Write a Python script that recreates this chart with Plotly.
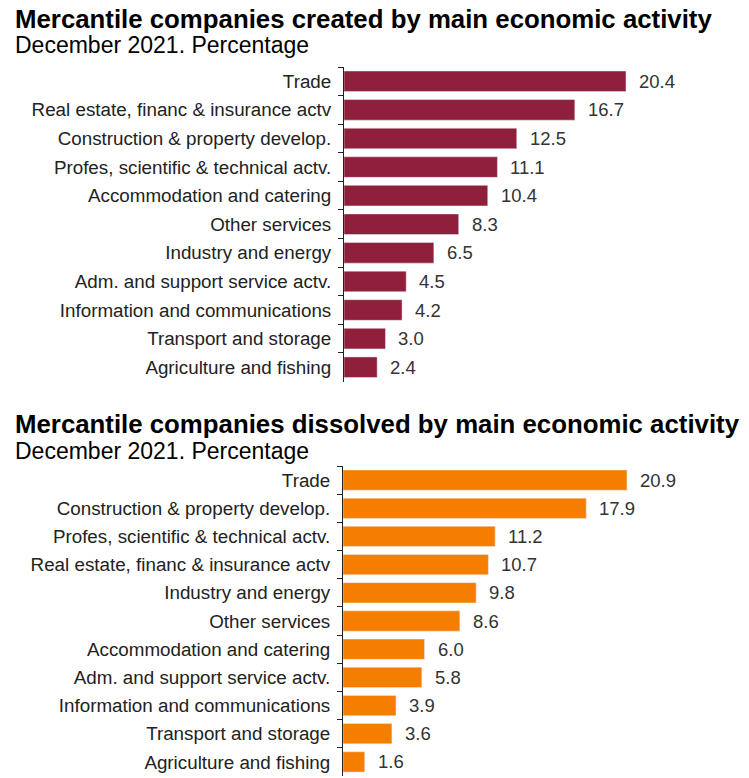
import plotly.graph_objects as go

# page body adds an 8px margin, so the figure is 8px smaller and positions are shifted
OFF = 8
W, H = 749 - OFF, 778 - OFF

created_cats = ["Trade", "Real estate, financ & insurance actv", "Construction & property develop.",
                "Profes, scientific & technical actv.", "Accommodation and catering", "Other services",
                "Industry and energy", "Adm. and support service actv.", "Information and communications",
                "Transport and storage", "Agriculture and fishing"]
created_vals = [20.4, 16.7, 12.5, 11.1, 10.4, 8.3, 6.5, 4.5, 4.2, 3.0, 2.4]

dissolved_cats = ["Trade", "Construction & property develop.", "Profes, scientific & technical actv.",
                  "Real estate, financ & insurance actv", "Industry and energy", "Other services",
                  "Accommodation and catering", "Adm. and support service actv.",
                  "Information and communications", "Transport and storage", "Agriculture and fishing"]
dissolved_vals = [20.9, 17.9, 11.2, 10.7, 9.8, 8.6, 6.0, 5.8, 3.9, 3.6, 1.6]

title_top = "Mercantile companies created by main economic activity"
title_bottom = "Mercantile companies dissolved by main economic activity"
subtitle = "December 2021. Percentage"

MAROON = "#8f1f3a"
ORANGE = "#f57e00"
FONT = "Liberation Sans, Arial, sans-serif"


def py(px):
    # reference pixel (from top) -> paper coordinate
    return 1 - (px - OFF) / H


def px_x(px):
    return (px - OFF) / W


fig = go.Figure()
fig.add_trace(go.Bar(x=created_vals, y=created_cats, orientation="h", marker_color=MAROON,
                     xaxis="x", yaxis="y", hoverinfo="x+y"))
fig.add_trace(go.Bar(x=dissolved_vals, y=dissolved_cats, orientation="h", marker_color=ORANGE,
                     xaxis="x2", yaxis="y2", hoverinfo="x+y"))

annotations = []
for v, c in zip(created_vals, created_cats):
    annotations.append(dict(x=v, y=c, xref="x", yref="y", text=f"{v:.1f}", showarrow=False,
                            xanchor="left", xshift=11, font=dict(size=18.5, color="#333333")))
for v, c in zip(dissolved_vals, dissolved_cats):
    annotations.append(dict(x=v, y=c, xref="x2", yref="y2", text=f"{v:.1f}", showarrow=False,
                            xanchor="left", xshift=11, font=dict(size=18.5, color="#333333")))

for t, ypx, size, bold in [(title_top, 19.5, 25.8, True), (subtitle, 45.5, 23, False),
                           (title_bottom, 424, 25.8, True), (subtitle, 451, 23, False)]:
    annotations.append(dict(x=px_x(14), y=py(ypx), xref="paper", yref="paper", xanchor="left",
                            yanchor="middle", showarrow=False, borderpad=0,
                            text=f"<b>{t}</b>" if bold else t,
                            font=dict(size=size, color="black")))

yax = dict(autorange="reversed", showline=True, linecolor="#222222", linewidth=1,
           ticks="outside", tickson="boundaries", ticklen=5, tickcolor="#222222",
           ticklabelstandoff=8, tickfont=dict(size=18.8, color="#222222"), showgrid=False)
xax = dict(showgrid=False, showticklabels=False, zeroline=False, showline=False, ticks="")

fig.update_layout(
    width=W, height=H,
    margin=dict(l=0, r=0, t=0, b=0),
    paper_bgcolor="white", plot_bgcolor="white",
    font=dict(family=FONT),
    showlegend=False,
    bargap=0.28,
    xaxis=dict(xax, domain=[px_x(344), 1.0], range=[0, 29.3], anchor="y"),
    yaxis=dict(yax, domain=[py(381.5), py(67)], anchor="x"),
    xaxis2=dict(xax, domain=[px_x(343), 1.0], range=[0, 29.88], anchor="y2"),
    yaxis2=dict(yax, domain=[py(776), py(466)], anchor="x2"),
    annotations=annotations,
)

fig.write_html("out.html")
